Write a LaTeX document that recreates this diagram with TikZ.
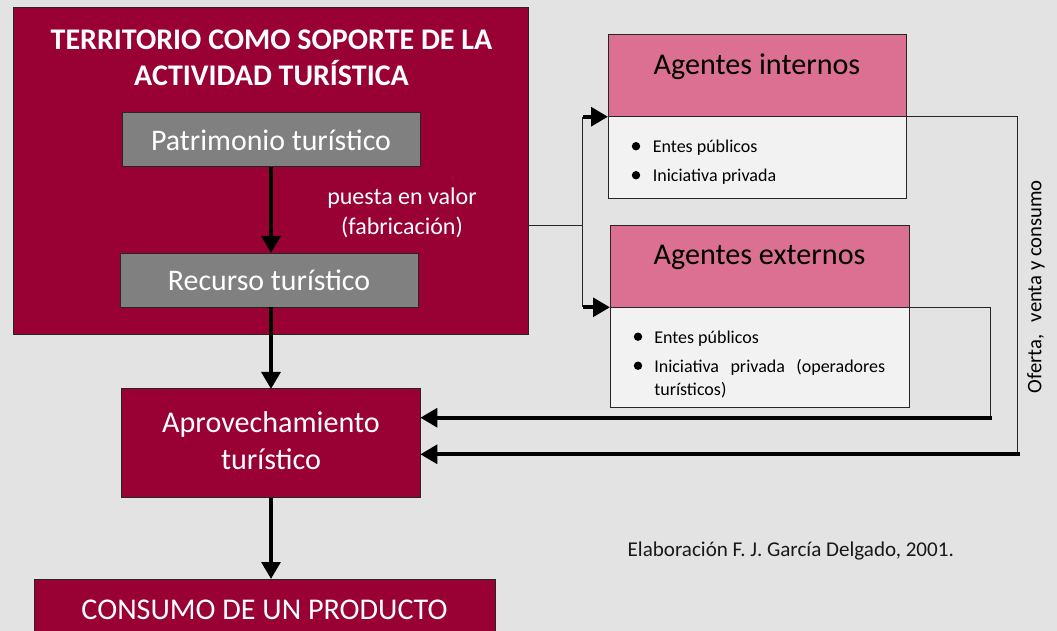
\documentclass[tikz,border=0pt]{standalone}
\usepackage{fontspec}
\setmainfont{Carlito}
\usetikzlibrary{arrows.meta,calc}
\definecolor{bg}{HTML}{E3E3E3}
\definecolor{wine}{HTML}{990033}
\definecolor{boxgray}{HTML}{808080}
\definecolor{pinkh}{HTML}{DB7093}
\definecolor{lightb}{HTML}{F2F2F2}
\definecolor{lin}{HTML}{262626}
\begin{document}
\begin{tikzpicture}[x=0.75pt,y=-0.75pt,
 box/.style={rectangle, draw=lin, line width=0.75pt, inner sep=0pt, outer sep=0pt},
 winebox/.style={box, fill=wine, text=white, font=\fontsize{22.6}{27.3}\selectfont, align=center},
 graybox/.style={box, fill=boxgray, text=white, font=\fontsize{22.4}{27}\selectfont},
 hdr/.style={box, fill=pinkh},
 body/.style={box, fill=lightb},
 hdrtxt/.style={inner sep=0pt, font=\fontsize{22.6}{27}\selectfont},
 itemtxt/.style={inner sep=0pt, anchor=base west, font=\fontsize{13.5}{16.7}\selectfont},
 bul/.style={circle, fill=black, inner sep=0pt, minimum size=6.3pt},
 thinline/.style={draw=lin, line width=0.75pt},
 thickarrow/.style={draw=black, line width=3pt, -{Triangle[length=12.75pt,width=14pt]}},
 ]
\useasboundingbox (0,0) rectangle (1057,631);
\fill[bg] (0,0) rectangle (1057,631);
\clip (0,0) rectangle (1057,631);

% left column
\node[winebox, minimum width=386.25pt, minimum height=244.5pt] (terr) at (270.5,171) {};
\node[inner sep=0pt, text=white, font=\bfseries\fontsize{22.5}{27.3}\selectfont, align=center] (title) at (271.5,58) {TERRITORIO COMO SOPORTE DE LA\\ACTIVIDAD TURÍSTICA};
\node[graybox, minimum width=223.5pt, minimum height=40.5pt] (pat) at (271,140) {Patrimonio turístico};
\node[graybox, minimum width=223.5pt, minimum height=40.5pt] (rec) at (269,280) {Recurso turístico};
\node[inner sep=0pt, text=white, font=\fontsize{18}{22.5}\selectfont, align=center] (pv) at (402,213) {puesta en valor\\(fabricación)};
\node[winebox, minimum width=224pt, minimum height=81.5pt] (apr) at (271,443.3) {};
\node[inner sep=0pt, text=white, font=\fontsize{22.6}{27.3}\selectfont, align=center] (aprT) at (271,440.5) {Aprovechamiento\\turístico};
\node[winebox, minimum width=345.75pt, minimum height=46.5pt] (cons) at (264.5,610) {CONSUMO DE UN PRODUCTO};

% agentes internos
\node[hdr, minimum width=223.5pt, minimum height=61.3pt] (intH) at (757,75.85) {};
\node[hdrtxt] (intT) at (757,66.7) {Agentes internos};
\node[body, minimum width=223.5pt, minimum height=61.2pt] (intB) at (757,157.5) {};
\node[bul] (ib1) at (636,146.2) {};
\node[itemtxt] (it1) at (652.6,152.7) {Entes públicos};
\node[bul] (ib2) at (636,175.2) {};
\node[itemtxt] (it2) at (652.6,181.7) {Iniciativa privada};

% agentes externos
\node[hdr, minimum width=224.25pt, minimum height=61.2pt] (exH) at (759.5,266.5) {};
\node[hdrtxt] (exT) at (759.5,257) {Agentes externos};
\node[body, minimum width=224.25pt, minimum height=75.3pt] (exB) at (759.5,357.5) {};
\node[bul] (eb1) at (638,336.7) {};
\node[itemtxt] (et1) at (654,343.3) {Entes públicos};
\node[bul] (eb2) at (638,365.7) {};
\node[itemtxt] (et2) at (654,372.3) {\makebox[173.25pt][s]{Iniciativa\hfill privada\hfill (operadores}};
\node[itemtxt] (et3) at (654,395) {turísticos)};

% connectors
\coordinate (split) at (582.7,225.7);
\draw[thinline] (terr.east |- split) -- (split);
\draw[thinline] (split |- intH.south) -- (split |- exH.south);
\draw[thickarrow] (split |- intH.south) -- (intH.south west);
\draw[thickarrow] (split |- exH.south) -- (exH.south west);

\coordinate (outer) at (1017.7,454.3);
\draw[thinline] (intH.south east) -| (outer);
\draw[thickarrow] ([xshift=1.8pt]outer) -- (apr.east |- outer);

\coordinate (inner) at (990,417.7);
\draw[thinline] (exH.south east) -| (inner);
\draw[thickarrow] ([xshift=1.8pt]inner) -- (apr.east |- inner);

\draw[thickarrow] (pat.south) -- (pat.south |- rec.north);
\draw[thickarrow] (apr.north |- rec.south) -- (apr.north);
\draw[thickarrow] (apr.south) -- (apr.south |- cons.north);

% texts
\node[rotate=90, inner sep=0pt, font=\fontsize{15.5}{18}\selectfont] (ofv) at (1036,286.7) {Oferta,\hspace{0.6em}venta y consumo};
\node[inner sep=0pt, font=\fontsize{15.8}{18}\selectfont, text=black!90] (cap) at (790.8,550.7) {Elaboración F. J. García Delgado, 2001.};
\end{tikzpicture}
\end{document}
